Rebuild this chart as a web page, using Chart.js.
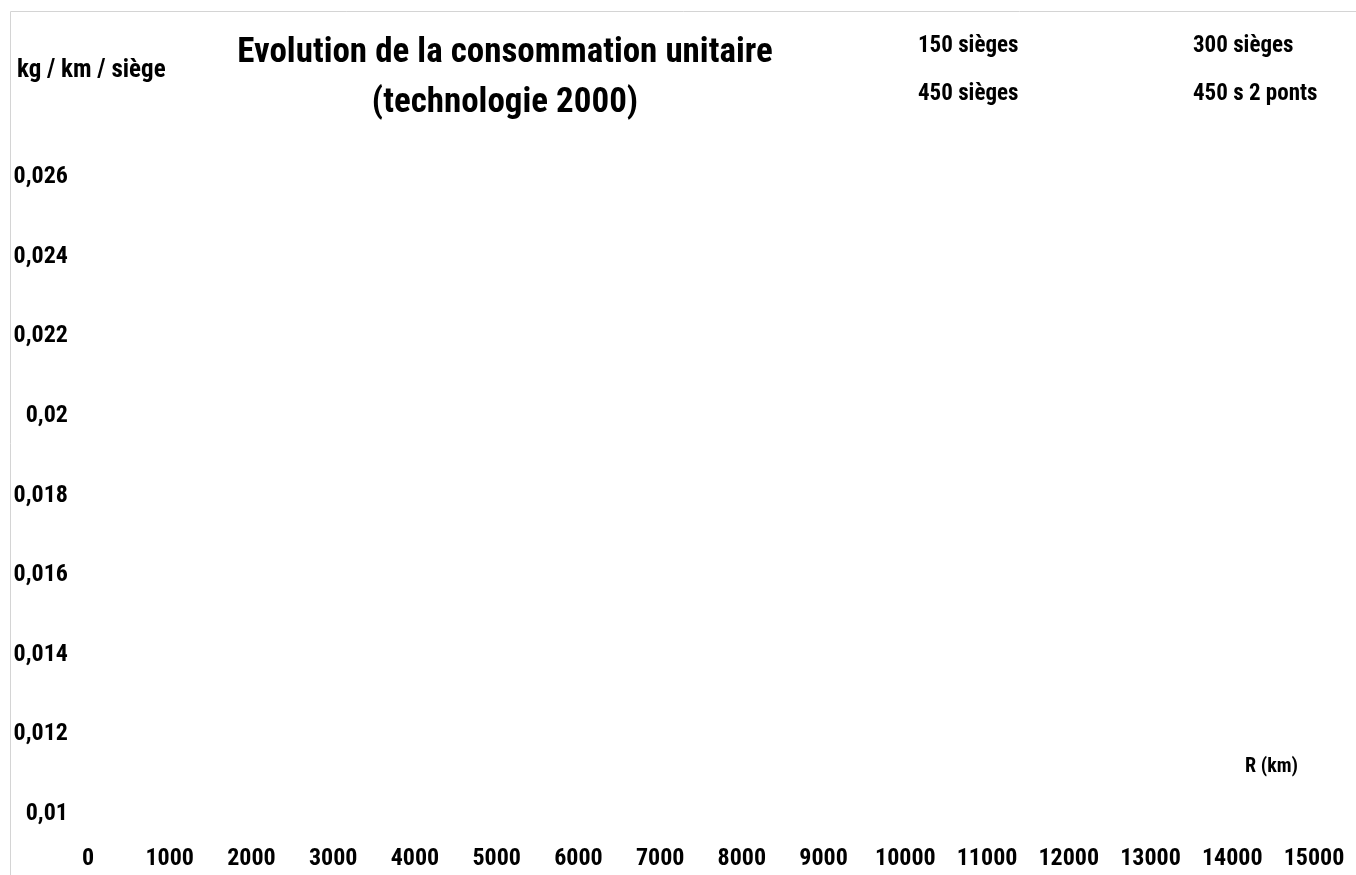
<!DOCTYPE html>
<html>
<head>
<meta charset="utf-8">
<title>Evolution de la consommation unitaire</title>
<script src="https://cdn.jsdelivr.net/npm/chart.js@4/dist/chart.umd.min.js"></script>
<style>
  html, body { margin: 0; padding: 0; background: #fff; }
  canvas { display: block; }
</style>
</head>
<body>
<canvas id="chart" width="1356" height="875"></canvas>
<script>
const FONT = '"Roboto Condensed", "Liberation Sans Narrow", "Arial Narrow", sans-serif'

// range R (km) ticks and consumption ticks (kg / km / siège)
const xTicks = [0, 1000, 2000, 3000, 4000, 5000, 6000, 7000, 8000, 9000, 10000, 11000, 12000, 13000, 14000, 15000]
const yTicks = [0.01, 0.012, 0.014, 0.016, 0.018, 0.02, 0.022, 0.024, 0.026]

// series: no curve is visible in the picture, so they stay empty
const seriesNames = ["150 sièges", "300 sièges", "450 sièges", "450 s 2 ponts"]
const seats150 = []
const seats300 = []
const seats450 = []
const seats450TwoDecks = []

const titleLines = ["Evolution de la consommation unitaire", "(technologie 2000)"]
const yAxisTitle = "kg / km / siège"
const xAxisTitle = "R (km)"

const frame = {
  id: "frame",
  beforeDraw(chart) {
    const ctx = chart.ctx
    ctx.save()
    ctx.strokeStyle = "#d4d4d4"
    ctx.lineWidth = 1
    ctx.beginPath()
    ctx.moveTo(10.5, 875)
    ctx.lineTo(10.5, 11.5)
    ctx.lineTo(1356, 11.5)
    ctx.stroke()
    ctx.restore()
  }
}

const annotations = {
  id: "annotations",
  afterDraw(chart) {
    const ctx = chart.ctx
    ctx.save()
    ctx.fillStyle = "#000"
    ctx.textBaseline = "middle"

    // title
    ctx.textAlign = "center"
    ctx.font = "bold 35px " + FONT
    ctx.fillText(titleLines[0], 505, 53)
    ctx.fillText(titleLines[1], 505, 103)

    // axis titles
    ctx.textAlign = "left"
    ctx.font = "bold 25px " + FONT
    ctx.fillText(yAxisTitle, 17, 71)
    ctx.font = "bold 20px " + FONT
    ctx.fillText(xAxisTitle, 1245, 767)

    // legend, 2 columns, no markers visible
    ctx.font = "bold 23px " + FONT
    const cols = [918, 1193]
    const rows = [46, 94]
    chart.data.datasets.forEach((ds, i) => {
      ctx.fillText(ds.label, cols[i % 2], rows[Math.floor(i / 2)])
    })
    ctx.restore()
  }
}

const fmt = v => parseFloat(v.toFixed(4)).toString().replace(".", ",")

new Chart(document.getElementById("chart"), {
  type: "line",
  data: {
    datasets: [
      { label: seriesNames[0], data: seats150, borderColor: "#000080", pointRadius: 0 },
      { label: seriesNames[1], data: seats300, borderColor: "#ff00ff", pointRadius: 0 },
      { label: seriesNames[2], data: seats450, borderColor: "#ffff00", pointRadius: 0 },
      { label: seriesNames[3], data: seats450TwoDecks, borderColor: "#00ffff", pointRadius: 0 }
    ]
  },
  options: {
    responsive: false,
    animation: false,
    layout: { padding: { top: 177, right: 42, left: 0, bottom: 0 } },
    plugins: {
      legend: { display: false },
      title: { display: false },
      tooltip: { enabled: false }
    },
    scales: {
      x: {
        type: "linear",
        min: xTicks[0],
        max: xTicks[xTicks.length - 1],
        afterBuildTicks: axis => { axis.ticks = xTicks.map(v => ({ value: v })) },
        afterFit: axis => {
          axis.height = 875 - 814
          axis.paddingLeft = 0
          axis.paddingRight = 42
        },
        grid: { display: false, drawTicks: false },
        border: { display: false },
        ticks: {
          color: "#000",
          padding: 31,
          maxRotation: 0,
          autoSkip: false,
          font: { family: FONT, size: 24, weight: "bold" },
          callback: v => String(v)
        }
      },
      y: {
        type: "linear",
        min: yTicks[0],
        max: yTicks[yTicks.length - 1],
        afterBuildTicks: axis => { axis.ticks = yTicks.map(v => ({ value: v })) },
        afterFit: axis => { axis.width = 88 },
        grid: { display: false, drawTicks: false },
        border: { display: false },
        ticks: {
          color: "#000",
          padding: 20,
          autoSkip: false,
          font: { family: FONT, size: 24, weight: "bold" },
          callback: v => fmt(v)
        }
      }
    }
  },
  plugins: [frame, annotations]
})
</script>
</body>
</html>
